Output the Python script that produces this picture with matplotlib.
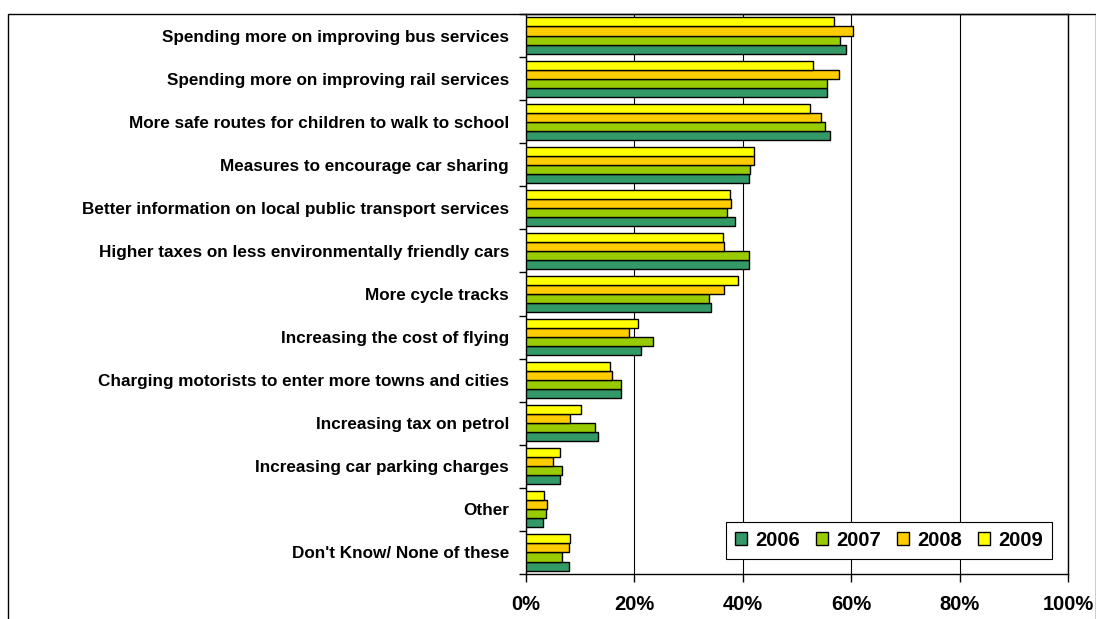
import matplotlib.pyplot as plt
import matplotlib.patches as mpatches
import numpy as np

plt.rcParams['font.family'] = ['Liberation Sans', 'DejaVu Sans']
plt.rcParams['font.weight'] = 'bold'

# Survey measures, listed top to bottom
categories = [
    "Spending more on improving bus services",
    "Spending more on improving rail services",
    "More safe routes for children to walk to school",
    "Measures to encourage car sharing",
    "Better information on local public transport services",
    "Higher taxes on less environmentally friendly cars",
    "More cycle tracks",
    "Increasing the cost of flying",
    "Charging motorists to enter more towns and cities",
    "Increasing tax on petrol",
    "Increasing car parking charges",
    "Other",
    "Don't Know/ None of these",
]

# Percentage of respondents per year
v2006 = [59.0, 55.5, 56.1, 41.1, 38.5, 41.1, 34.1, 21.3, 17.5, 13.3, 6.3, 3.1, 7.9]
v2007 = [58.0, 55.5, 55.2, 41.4, 37.2, 41.1, 33.8, 23.5, 17.5, 12.7, 6.6, 3.7, 6.6]
v2008 = [60.3, 57.7, 54.5, 42.0, 37.9, 36.6, 36.6, 19.0, 15.9, 8.2, 5.0, 4.0, 7.9]
v2009 = [56.8, 52.9, 52.5, 42.0, 37.6, 36.3, 39.2, 20.7, 15.6, 10.2, 6.3, 3.4, 8.2]

years = ['2006', '2007', '2008', '2009']
colours = ['#339966', '#99CC00', '#FFCC00', '#FFFF00']

fig = plt.figure(figsize=(10.96, 6.19), dpi=100)
ax = fig.add_axes([0.4797, 0.0727, 0.4948, 0.9047])

y = np.arange(len(categories))
h = 0.21
offsets = [1.5 * h, 0.5 * h, -0.5 * h, -1.5 * h]
for vals, off, col, yr in zip([v2006, v2007, v2008, v2009], offsets, colours, years):
    ax.barh(y + off, vals, h, color=col, edgecolor='black', linewidth=1.0,
            label=yr, zorder=3)

ax.set_ylim(len(categories) - 0.5, -0.5)
ax.set_xlim(0, 100)

# x axis: percentages with vertical gridlines
ax.set_xticks(range(0, 101, 20))
ax.set_xticklabels([f'{t}%' for t in range(0, 101, 20)], fontsize=14.5, fontweight='bold')
ax.tick_params(axis='x', length=6, width=1, pad=9, direction='out')
ax.xaxis.grid(True, color='black', linewidth=0.8)
ax.set_axisbelow(True)

# y axis: labels at category centres, tick marks at boundaries
ax.set_yticks(y)
ax.set_yticklabels(categories, fontsize=12.3, fontweight='bold')
ax.tick_params(axis='y', which='major', length=0, pad=12)
ax.set_yticks(np.arange(-0.5, len(categories)), minor=True)
ax.tick_params(axis='y', which='minor', length=5, width=1, direction='out')

for sp in ax.spines.values():
    sp.set_color('black')
    sp.set_linewidth(1.0)

leg = ax.legend(ncol=4, loc='lower right', bbox_to_anchor=(0.970, 0.027),
                fontsize=14.5, frameon=True, fancybox=False, framealpha=1,
                edgecolor='black', handlelength=0.6, handleheight=0.6,
                handletextpad=0.4, columnspacing=0.8, borderpad=0.45,
                borderaxespad=0)
leg.get_frame().set_linewidth(0.8)

# chart area border
fig.patches.append(mpatches.Rectangle((8 / 1096, -0.1), 1087.5 / 1096, 1.1 - 14 / 619,
                                      transform=fig.transFigure, fill=False,
                                      edgecolor='black', linewidth=1.0))

fig.savefig('out.png', dpi=100)
